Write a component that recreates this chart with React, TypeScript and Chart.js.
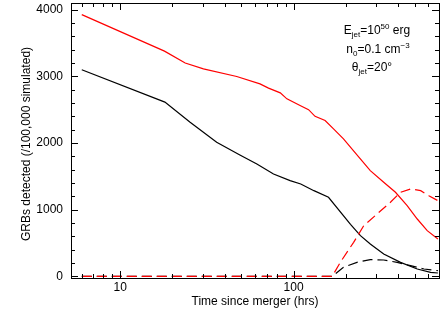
import React, { useEffect, useRef } from "react";
import { Chart, registerables } from "chart.js";

Chart.register(...registerables);

// Time since merger (hrs) and GRBs detected
const redSolidTime = [6, 18, 23.7, 30.2, 47, 64, 71.7, 83.8, 91.5, 109, 122, 133, 152, 170, 194, 238, 277, 331, 387, 452, 517, 590, 680];
const redSolidCount = [3925, 3378, 3200, 3113, 2997, 2887, 2823, 2752, 2662, 2562, 2500, 2400, 2337, 2212, 2062, 1787, 1586, 1411, 1261, 1060, 860, 685, 560];

const blackSolidTime = [6, 18.1, 25.3, 36, 49, 61.4, 76.6, 95.5, 110, 131, 159, 213, 243, 277, 331, 414, 517, 617, 680];
const blackSolidCount = [3098, 2613, 2312, 2012, 1821, 1686, 1536, 1435, 1386, 1285, 1186, 780, 610, 485, 335, 210, 110, 60, 50];

const redDashTime = [6, 167, 186, 222, 254, 303, 362, 414, 473, 541, 603, 680];
const redDashCount = [0, 0, 210, 510, 760, 935, 1111, 1261, 1311, 1285, 1210, 1135];

const blackDashTime = [6, 167, 194, 232, 277, 331, 396, 473, 565, 680];
const blackDashCount = [0, 0, 135, 210, 250, 245, 210, 160, 110, 85];

const xTickValues = [10, 100];
const yTickValues = [0, 1000, 2000, 3000, 4000];

const xTitle = "Time since merger (hrs)";
const yTitle = "GRBs detected (/100,000 simulated)";

const FONT = '"Liberation Sans", Arial, Helvetica, sans-serif';

const X_MIN = 5.2;
const X_MAX = 690;
const Y_MIN = -25;
const Y_MAX = 4100;

const toPoints = (t: number[], v: number[]) => t.map((x, i) => ({ x, y: v[i] }));

type Run = { t: string; size: number; dy: number };

function drawRuns(ctx: CanvasRenderingContext2D, runs: Run[], cx: number, baseline: number) {
  let total = 0;
  const widths = runs.map((r) => {
    ctx.font = `${r.size}px ${FONT}`;
    const w = ctx.measureText(r.t).width;
    total += w;
    return w;
  });
  let x = cx - total / 2;
  runs.forEach((r, i) => {
    ctx.font = `${r.size}px ${FONT}`;
    ctx.fillText(r.t, x, baseline + r.dy);
    x += widths[i];
  });
}

const overlay = {
  id: "overlay",
  afterDraw(chart: any) {
    const ctx: CanvasRenderingContext2D = chart.ctx;
    const a = chart.chartArea;
    const xs = chart.scales.x;
    const ys = chart.scales.y;
    ctx.save();
    ctx.globalAlpha = 1;
    ctx.fillStyle = "#000000";
    const L = Math.round(a.left);
    const R = Math.round(a.right) - 1;
    const T = Math.round(a.top);
    const B = Math.round(a.bottom) - 1;
    for (let v = 0; v <= 4000; v += 200) {
      const y = Math.round(ys.getPixelForValue(v));
      const len = v % 1000 === 0 ? 7 : 4;
      ctx.fillRect(L, y, len, 1);
      ctx.fillRect(R - len + 1, y, len, 1);
    }
    const decades = [1, 10, 100, 1000];
    for (let di = 0; di < decades.length; di++) {
      for (let m = 1; m <= 9; m++) {
        const v = m * decades[di];
        if (v <= X_MIN || v >= X_MAX) continue;
        const x = Math.round(xs.getPixelForValue(v));
        const len = m === 1 ? 7 : 4;
        ctx.fillRect(x, B - len + 1, 1, len);
        ctx.fillRect(x, T, 1, len);
      }
    }

    ctx.font = `12px ${FONT}`;
    ctx.textAlign = "center";
    ctx.textBaseline = "middle";
    ctx.fillText(xTitle, (a.left + a.right) / 2, 302);
    ctx.save();
    ctx.translate(27, 144);
    ctx.rotate(-Math.PI / 2);
    ctx.fillText(yTitle, 0, 0);
    ctx.restore();

    ctx.textAlign = "left";
    ctx.textBaseline = "alphabetic";
    drawRuns(ctx, [
      { t: "E", size: 12, dy: 0 },
      { t: "jet", size: 8, dy: 3 },
      { t: "=10", size: 12, dy: 0 },
      { t: "50", size: 8, dy: -4.8 },
      { t: " erg", size: 12, dy: 0 },
    ], 377, 34);
    drawRuns(ctx, [
      { t: "n", size: 12, dy: 0 },
      { t: "0", size: 8, dy: 3 },
      { t: "=0.1 cm", size: 12, dy: 0 },
      { t: "\u22123", size: 8, dy: -4.8 },
    ], 378, 53);
    drawRuns(ctx, [
      { t: "\u03b8", size: 12, dy: 0 },
      { t: "jet", size: 8, dy: 3 },
      { t: "=20\u00b0", size: 12, dy: 0 },
    ], 372, 71);
    ctx.restore();
  },
};

const zeroPad = (s: any) => {
  s.paddingTop = 0;
  s.paddingBottom = 0;
  s.paddingLeft = 0;
  s.paddingRight = 0;
};

const frameBorder = { display: true, color: "#000000", width: 1 };

export default function App() {
  const ref = useRef<HTMLCanvasElement>(null);
  useEffect(() => {
    if (!ref.current) return;
    const common = { pointRadius: 0, borderWidth: 1.2, fill: false, tension: 0 };
    const chart = new Chart(ref.current, {
      type: "line",
      data: {
        datasets: [
          { ...common, label: "red dashed", data: toPoints(redDashTime, redDashCount), borderColor: "#ff0000", borderDash: [10, 5], order: 1 },
          { ...common, label: "black dashed", data: toPoints(blackDashTime, blackDashCount), borderColor: "#000000", borderDash: [10, 5], order: 2 },
          { ...common, label: "red solid", data: toPoints(redSolidTime, redSolidCount), borderColor: "#ff0000", order: 3 },
          { ...common, label: "black solid", data: toPoints(blackSolidTime, blackSolidCount), borderColor: "#000000", order: 4 },
        ],
      },
      options: {
        responsive: false,
        animation: false,
        layout: { padding: { left: 0, right: 3, top: 3, bottom: 0 } },
        plugins: { legend: { display: false }, tooltip: { enabled: false } },
        scales: {
          x: {
            type: "logarithmic",
            min: X_MIN,
            max: X_MAX,
            grid: { display: false, drawTicks: false },
            border: frameBorder,
            afterBuildTicks: (s: any) => { s.ticks = xTickValues.map((v) => ({ value: v })); },
            afterFit: (s: any) => { s.height = 31; zeroPad(s); },
            ticks: {
              color: "#000",
              padding: 2,
              maxRotation: 0,
              autoSkip: false,
              font: { family: FONT, size: 12 },
              callback: (v: any) => String(v),
            },
          },
          x2: {
            type: "logarithmic",
            position: "top",
            min: X_MIN,
            max: X_MAX,
            grid: { display: false, drawTicks: false },
            border: frameBorder,
            ticks: { display: false },
            afterFit: (s: any) => { s.height = 0; zeroPad(s); },
          },
          y: {
            type: "linear",
            min: Y_MIN,
            max: Y_MAX,
            grid: { display: false, drawTicks: false },
            border: frameBorder,
            afterBuildTicks: (s: any) => { s.ticks = yTickValues.map((v) => ({ value: v })); },
            afterFit: (s: any) => { s.width = 71; zeroPad(s); },
            ticks: {
              color: "#000",
              padding: 8,
              font: { family: FONT, size: 12 },
              callback: (v: any) => String(v),
            },
          },
          y2: {
            type: "linear",
            position: "right",
            min: Y_MIN,
            max: Y_MAX,
            grid: { display: false, drawTicks: false },
            border: frameBorder,
            ticks: { display: false },
            afterFit: (s: any) => { s.width = 0; zeroPad(s); },
          },
        },
      },
      plugins: [overlay],
    });
    return () => chart.destroy();
  }, []);
  return (
    <div style={{ position: "absolute", left: 0, top: 0, width: 442, height: 309, background: "#fff" }}>
      <canvas ref={ref} width={442} height={309} />
    </div>
  );
}
